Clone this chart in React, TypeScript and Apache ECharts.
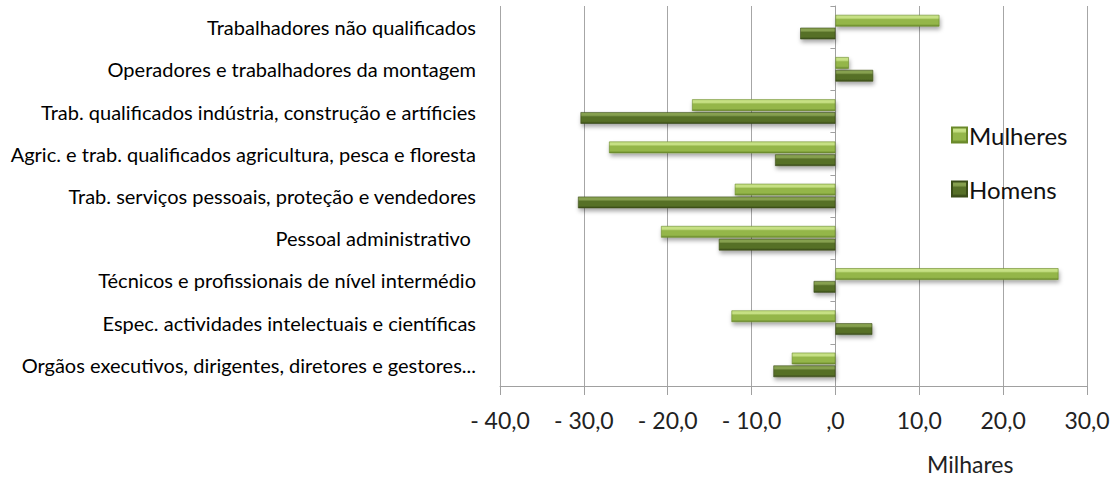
import React, { useEffect, useRef } from "react";
import * as echarts from "echarts";

// categories listed bottom-to-top (ECharts category y axis starts at the bottom)
const categories = [
  "Orgãos executivos, dirigentes, diretores e gestores...",
  "Espec. actividades intelectuais e científicas",
  "Técnicos e profissionais de nível intermédio",
  "Pessoal administrativo ",
  "Trab. serviços pessoais, proteção e vendedores",
  "Agric. e trab. qualificados agricultura, pesca e floresta",
  "Trab. qualificados indústria, construção e artíficies",
  "Operadores e trabalhadores da montagem",
  "Trabalhadores não qualificados",
];

const mulheres = [-5.2, -12.4, 26.6, -20.8, -12.0, -27.0, -17.1, 1.6, 12.4];
const homens = [-7.4, 4.4, -2.6, -13.9, -30.7, -7.2, -30.4, 4.5, -4.2];

const xMin = -40;
const xMax = 30;
const xInterval = 10;
const axisUnitLabel = "Milhares";

const fmt = (v: number) => {
  if (v === 0) return ",0";
  const s = Math.abs(v).toFixed(1).replace(".", ",");
  return v < 0 ? "- " + s : s;
};

const grad = (top: string, mid: string, bottom: string) =>
  new echarts.graphic.LinearGradient(0, 0, 0, 1, [
    { offset: 0, color: top },
    { offset: 0.25, color: top },
    { offset: 0.4, color: mid },
    { offset: 0.8, color: mid },
    { offset: 1, color: bottom },
  ]);

const GRID_LEFT = 500;
const GRID_RIGHT = 31;
const CHART_W = 1118;

export default function App() {
  const ref = useRef<HTMLDivElement>(null);
  useEffect(() => {
    if (!ref.current) return;
    const chart = echarts.init(ref.current, null, { renderer: "svg" });
    const font = "Lato, 'Open Sans', sans-serif";
    const plotW = CHART_W - GRID_LEFT - GRID_RIGHT;
    const zeroOffset = (-xMin / (xMax - xMin)) * plotW;
    chart.setOption({
      animation: false,
      backgroundColor: "#ffffff",
      textStyle: { fontFamily: font },
      grid: { left: GRID_LEFT, right: GRID_RIGHT, top: 6, bottom: 92, containLabel: false },
      legend: {
        data: ["Mulheres", "Homens"],
        orient: "vertical",
        left: 951,
        top: 123,
        padding: 0,
        itemWidth: 15,
        itemHeight: 15,
        itemGap: 30,
        icon: "rect",
        textStyle: { fontSize: 24, color: "#111", fontFamily: font, padding: [0, 0, 0, -3] },
      },
      xAxis: {
        type: "value",
        min: xMin,
        max: xMax,
        interval: xInterval,
        axisLine: { show: true, lineStyle: { color: "#a0a0a0", width: 1 } },
        axisTick: { show: true, length: 9, lineStyle: { color: "#a0a0a0" } },
        splitLine: { show: true, lineStyle: { color: "#a6a6a6", width: 1 } },
        axisLabel: {
          formatter: fmt,
          fontSize: 23,
          color: "#222",
          margin: 22,
          fontFamily: font,
        },
      },
      yAxis: [
        {
          type: "category",
          data: categories,
          axisLine: { show: false },
          axisTick: { show: false },
          axisLabel: { fontSize: 20, color: "#000", margin: 24, fontFamily: font },
        },
        {
          type: "category",
          data: categories,
          position: "left",
          offset: -zeroOffset,
          axisLine: { show: true, onZero: false, lineStyle: { color: "#a0a0a0" } },
          axisTick: { show: true, length: 5, lineStyle: { color: "#a0a0a0" } },
          axisLabel: { show: false },
        },
      ],
      series: [
        {
          name: "Mulheres",
          type: "bar",
          yAxisIndex: 0,
          data: mulheres,
          barCategoryGap: "42%",
          barGap: "10%",
          itemStyle: {
            color: grad("#c6e084", "#94b64a", "#68882a"),
            borderColor: "#6a892a",
            borderWidth: 0.6,
            shadowBlur: 4,
            shadowColor: "rgba(0,0,0,0.35)",
            shadowOffsetX: 1,
            shadowOffsetY: 3,
          },
        },
        {
          name: "Homens",
          type: "bar",
          yAxisIndex: 0,
          data: homens,
          barCategoryGap: "42%",
          barGap: "10%",
          itemStyle: {
            color: grad("#86a04f", "#566f27", "#3a4c19"),
            borderColor: "#3a4c18",
            borderWidth: 0.6,
            shadowBlur: 4,
            shadowColor: "rgba(0,0,0,0.35)",
            shadowOffsetX: 1,
            shadowOffsetY: 3,
          },
        },
      ],
      graphic: [
        {
          type: "text",
          left: 927,
          top: 452,
          style: { text: axisUnitLabel, fontSize: 23, fill: "#222", fontFamily: font },
        },
      ],
    });
    return () => chart.dispose();
  }, []);
  return <div ref={ref} style={{ width: CHART_W, height: 478, position: "absolute", left: 0, top: 0 }} />;
}
